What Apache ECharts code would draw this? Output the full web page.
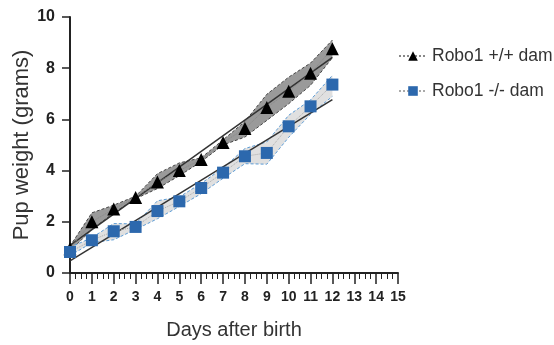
<!DOCTYPE html>
<html><head><meta charset="utf-8">
<script src="https://cdn.jsdelivr.net/npm/echarts@6/dist/echarts.min.js"></script>
<style>html,body{margin:0;padding:0;background:#fff}#c{width:554px;height:345px}</style>
</head><body><div id="c"></div>
<script>
const days = [0,1,2,3,4,5,6,7,8,9,10,11,12];
const wtMean  = [0.95,2.0,2.5,2.95,3.55,4.0,4.43,5.1,5.64,6.46,7.1,7.8,8.76];
const wtUpper = [1.05,2.35,2.65,3.0,3.88,4.3,4.5,5.2,5.92,6.98,7.65,8.2,9.1];
const wtLower = [0.85,1.7,2.35,2.9,3.3,3.8,4.35,5.0,5.31,5.96,6.61,7.33,8.41];
const koMean  = [0.82,1.28,1.63,1.8,2.42,2.8,3.32,3.92,4.56,4.69,5.73,6.51,7.36];
const koUpper = [1.0,1.38,1.93,1.92,2.82,2.97,3.5,4.1,4.86,5.12,6.16,6.76,7.72];
const koLower = [0.68,1.18,1.3,1.7,2.12,2.6,3.1,3.7,4.27,4.25,5.3,6.2,6.9];
const fitDays = [0,12];
const wtFit = [1.08,8.42];
const koFit = [0.47,6.77];
const xTicks = [0,15,1];
const yTicks = [0,10,2];
const names = ['Robo1 +/+ dam','Robo1 -/- dam'];
const yTitle = 'Pup weight (grams)';

const pair = (xs, ys) => xs.map((x,i)=>[x, ys[i]]);

function band(upper, lower, fill, stroke){
  return {
    type:'custom', silent:true, z:1,
    data:[[days[0], lower[0]]],
    encode:{x:0, y:1},
    renderItem:(params, api)=>{
      const up = days.map((d,i)=>api.coord([d, upper[i]]));
      const lo = days.map((d,i)=>api.coord([d, lower[i]]));
      const ring = up.concat(lo.slice().reverse());
      return {type:'group', children:[
        {type:'polygon', shape:{points:ring}, style:{fill:fill, stroke:null}},
        {type:'polyline', shape:{points:up}, style:{fill:null, stroke:stroke, lineWidth:1, lineDash:[3,2]}},
        {type:'polyline', shape:{points:lo}, style:{fill:null, stroke:stroke, lineWidth:1, lineDash:[3,2]}}
      ]};
    }
  };
}

const chart = echarts.init(document.getElementById('c'), null, {renderer:'canvas'});
const axisCol = '#222';
const ff = 'Liberation Sans, Arial, sans-serif';
chart.setOption({
  animation:false,
  textStyle:{fontFamily:ff},
  grid:{left:70, top:17, right:156, bottom:72, containLabel:false, outerBoundsMode:'none'},
  graphic:[{
    type:'text', x:22, y:145, rotation:Math.PI/2,
    style:{text:yTitle, fontSize:22, fontFamily:ff, fill:'#333', align:'center', verticalAlign:'middle'}
  }],
  legend:{
    data:names, orient:'vertical', left:393, top:42, itemGap:17,
    itemWidth:28, itemHeight:12,
    textStyle:{fontSize:17.5, color:'#333', fontFamily:ff}
  },
  xAxis:{
    type:'value', min:xTicks[0], max:xTicks[1], interval:xTicks[2],
    name:'Days after birth', nameLocation:'middle', nameGap:47,
    nameTextStyle:{fontSize:20, color:'#333'},
    axisLine:{lineStyle:{color:axisCol, width:2}},
    axisTick:{length:11, lineStyle:{color:axisCol, width:1.5}},
    minorTick:{show:true, splitNumber:4, length:6, lineStyle:{color:axisCol, width:1}},
    axisLabel:{fontSize:14, fontWeight:'bold', color:'#222', margin:17},
    splitLine:{show:false}
  },
  yAxis:{
    type:'value', min:yTicks[0], max:yTicks[1], interval:yTicks[2],
    axisLine:{show:true, lineStyle:{color:axisCol, width:2}},
    axisTick:{show:true, length:8, lineStyle:{color:axisCol, width:1.5}},
    axisLabel:{fontSize:16, fontWeight:'bold', color:'#222', margin:15},
    splitLine:{show:false}
  },
  series:[
    band(wtUpper, wtLower, '#9a9a9a', '#444'),
    band(koUpper, koLower, '#e0e0e0', '#5b9bd5'),
    {type:'line', name:'wtFit', data:pair(fitDays, wtFit), symbol:'none',
     lineStyle:{color:'#333', width:1.5}, z:3},
    {type:'line', name:'koFit', data:pair(fitDays, koFit), symbol:'none',
     lineStyle:{color:'#333', width:1.5}, z:3},
    {type:'line', name:names[0], data:pair(days, wtMean), symbol:'triangle', symbolSize:13,
     itemStyle:{color:'#000'}, lineStyle:{color:'#888', width:1, type:'dotted'}, z:5},
    {type:'line', name:names[1], data:pair(days, koMean), symbol:'rect', symbolSize:12,
     itemStyle:{color:'#2c68ad'}, lineStyle:{color:'#aaa', width:1, type:'dotted'}, z:5}
  ]
});
</script></body></html>
